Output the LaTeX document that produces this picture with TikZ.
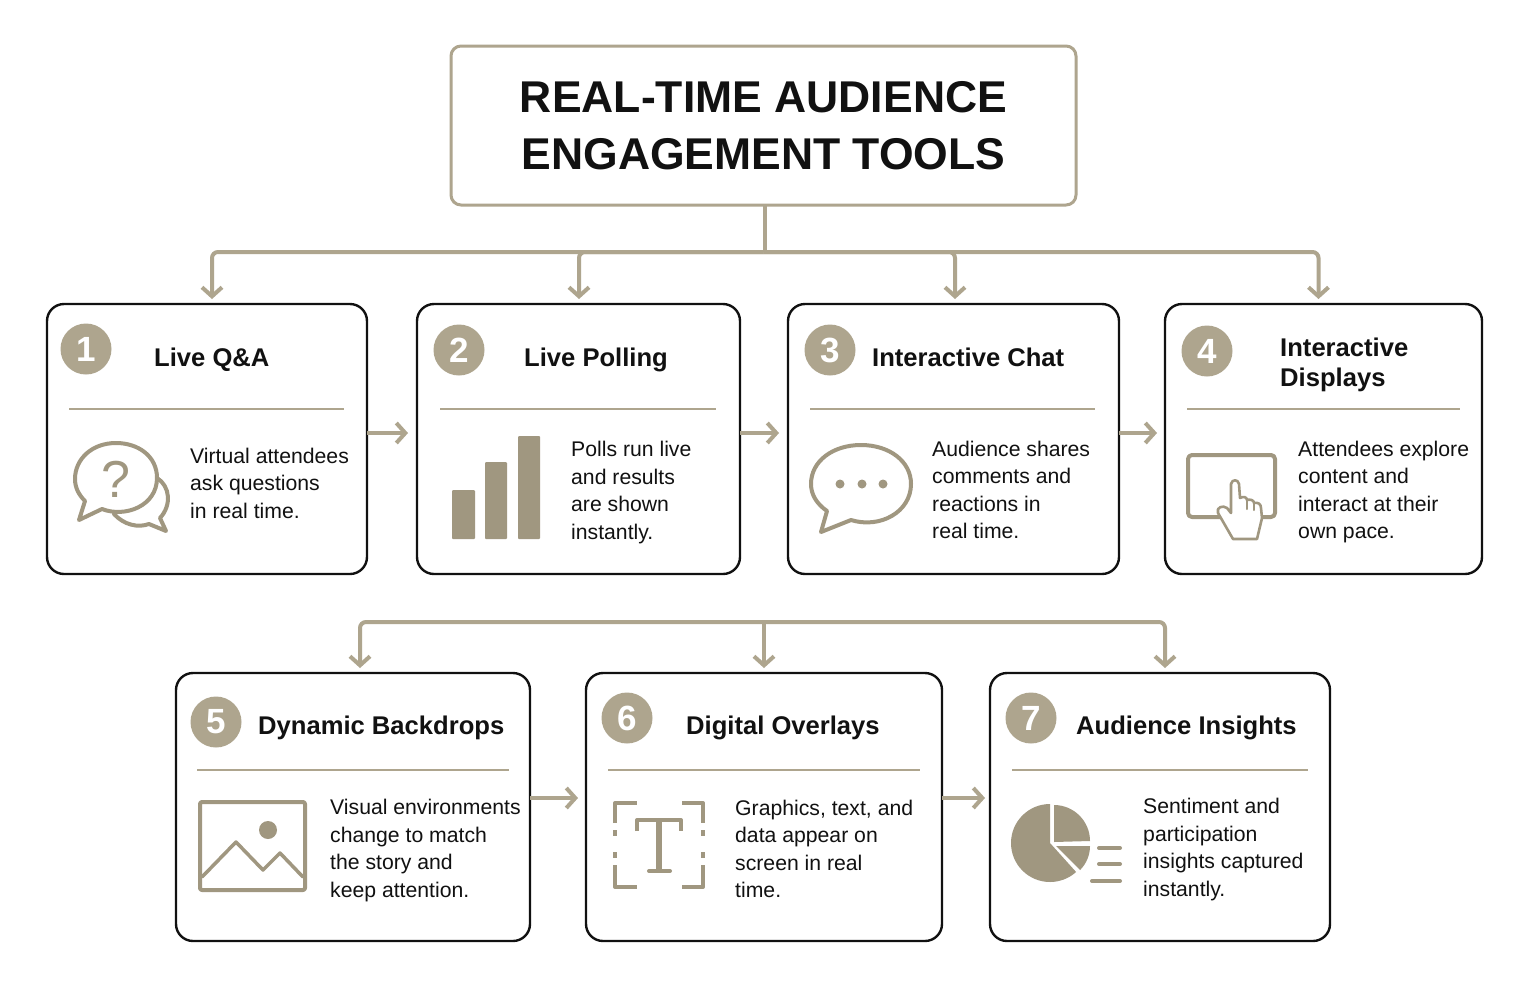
\documentclass[tikz,border=0pt]{standalone}
\usepackage{fontspec}
\setmainfont{Liberation Sans}
\usepackage{xcolor}
\usetikzlibrary{arrows.meta, positioning, calc}
\definecolor{tanline}{RGB}{174,165,142}
\definecolor{taniconc}{RGB}{160,151,128}
\definecolor{inkblack}{RGB}{17,17,17}

\begin{document}
\begin{tikzpicture}[
    x=1pt, y=-1pt,
    node distance=47pt,
    titlebox/.style={rectangle, rounded corners=10pt, draw=tanline, line width=3pt, fill=white,
        minimum width=625pt, minimum height=159pt, inner sep=0pt, outer sep=0pt, align=center,
        text=inkblack, font=\fontsize{44.5}{57}\selectfont\bfseries},
    card/.style={rectangle, rounded corners=17pt, draw=inkblack, line width=2.4pt, fill=white,
        minimum height=270pt, inner sep=0pt, outer sep=0pt},
    badge/.style={circle, fill=tanline, minimum size=51pt, inner sep=0pt, text=white,
        font=\fontsize{35}{35}\selectfont\bfseries},
    head/.style={anchor=west, inner sep=0pt, align=left, text=inkblack,
        font=\fontsize{25.6}{30}\selectfont\bfseries},
    body/.style={anchor=west, inner sep=0pt, align=left, text=inkblack,
        font=\fontsize{21.2}{27.5}\selectfont},
    rule/.style={tanline, line width=2pt},
    arr/.style={-{Straight Barb[length=9pt, width=20pt]}, tanline, line width=4pt, rounded corners=6pt},
    link/.style={tanline, line width=4pt},
    icon/.style={taniconc, line width=4pt, line join=round, line cap=round},
    solid icon/.style={fill=taniconc, draw=none}
]
\useasboundingbox (0,0) rectangle (1531,988);
\fill[white] (0,0) rectangle (1531,988);

\node[titlebox] (title) at (763.5,125.5) {REAL-TIME AUDIENCE\\ENGAGEMENT TOOLS};

% upper row
\node[card, minimum width=320pt] (c1) at (207,439) {};
\node[card, minimum width=323pt, right=50pt of c1] (c2) {};
\node[card, minimum width=331pt, right=48pt of c2] (c3) {};
\node[card, minimum width=317pt, right=46pt of c3] (c4) {};

% lower row
\node[card, minimum width=354pt, minimum height=268pt] (c5) at (353,807) {};
\node[card, minimum width=356pt, minimum height=268pt, right=56pt of c5] (c6) {};
\node[card, minimum width=340pt, minimum height=268pt, right=48pt of c6] (c7) {};

% connectors
\coordinate[below=47pt of title] (bus1);
\coordinate (bus2) at (764,622);
\draw[link] ([xshift=1.5pt]title.south) -- ([xshift=1.5pt]bus1);
\draw[arr, shorten >=5pt] (bus1) -| ([xshift=5pt]c1.north);
\draw[arr, shorten >=5pt] (bus1) -| ([xshift=0.5pt]c2.north);
\draw[arr, shorten >=5pt] (bus1) -| ([xshift=1.5pt]c3.north);
\draw[arr, shorten >=5pt] (bus1) -| ([xshift=-5pt]c4.north);
\draw[arr, shorten >=5pt] (bus2) -| ([xshift=7pt]c5.north);
\draw[arr, shorten >=5pt] (bus2) -- (c6.north);
\draw[arr, shorten >=5pt] (bus2) -| ([xshift=5pt]c7.north);
\draw[arr, shorten >=9pt] ([yshift=6pt]c1.east) -- ([yshift=6pt]c2.west);
\draw[arr, shorten >=9pt] ([yshift=6pt]c2.east) -- ([yshift=6pt]c3.west);
\draw[arr, shorten >=8pt] ([yshift=6pt]c3.east) -- ([yshift=6pt]c4.west);
\draw[arr, shorten >=8pt] ([yshift=9pt]c5.east) -- ([yshift=9pt]c6.west);
\draw[arr, shorten >=5pt] ([yshift=9pt]c6.east) -- ([yshift=9pt]c7.west);

% badges
\node[badge] (b1) at (86,349) {1};
\node[badge] (b2) at (459,350) {2};
\node[badge] (b3) at (830,350) {3};
\node[badge] (b4) at (1207,351) {4};
\node[badge] (b5) at (216,722) {5};
\node[badge] (b6) at (627,718) {6};
\node[badge] (b7) at (1031,718) {7};

% headings
\node[head] (h1) at (154,360) {Live Q\&A};
\node[head] (h2) at (524,360) {Live Polling};
\node[head] (h3) at (872,357) {Interactive Chat};
\node[head] (h4) at (1280,365) {Interactive\\Displays};
\node[head] (h5) at (258,728) {Dynamic Backdrops};
\node[head] (h6) at (686,728) {Digital Overlays};
\node[head] (h7) at (1076,728) {Audience Insights};

% dividers
\draw[rule] (69,409) -- (344,409);
\draw[rule] (440,409) -- (716,409);
\draw[rule] (810,409) -- (1095,409);
\draw[rule] (1187,409) -- (1460,409);
\draw[rule] (197,770) -- (509,770);
\draw[rule] (608,770) -- (920,770);
\draw[rule] (1012,770) -- (1308,770);

% body text
\node[body] (t1) at (190,483) {Virtual attendees\\ask questions\\in real time.};
\node[body] (t2) at (571,492.5) {Polls run live\\and results\\are shown\\instantly.};
\node[body] (t3) at (932,490) {Audience shares\\comments and\\reactions in\\real time.};
\node[body] (t4) at (1298,492) {Attendees explore\\content and\\interact at their\\own pace.};
\node[body] (t5) at (330,850.5) {Visual environments\\change to match\\the story and\\keep attention.};
\node[body] (t6) at (735,849) {Graphics, text, and\\data appear on\\screen in real\\time.};
\node[body] (t7) at (1143,849.5) {Sentiment and\\participation\\insights captured\\instantly.};

% icon 1, two bubbles
\draw[icon] (157,478) .. controls (170,486) and (172,505) .. (160,518) -- (166,531) -- (149,524)
    .. controls (138,528) and (124,525) .. (114,514);
\draw[icon] (102,509) .. controls (125,518) and (157,506) .. (157,478)
    .. controls (157,456) and (138,443) .. (116,443)
    .. controls (92,443) and (75,459) .. (75,479)
    .. controls (75,488) and (79,495) .. (85,501) -- (79,520) -- cycle;
\node[font=\fontsize{52}{52}\selectfont, text=taniconc, inner sep=0pt] (q1) at (116,479) {?};

% icon 2, bars
\fill[solid icon, rounded corners=1pt] (452,490) rectangle (475,539);
\fill[solid icon, rounded corners=1pt] (485,462) rectangle (507,539);
\fill[solid icon, rounded corners=1pt] (518,436) rectangle (540,539);

% icon 3, bubble with dots
\draw[icon] (851,520) .. controls (880,529) and (911,512) .. (911,484)
    .. controls (911,461) and (889,445) .. (861,445)
    .. controls (833,445) and (811,461) .. (811,484)
    .. controls (811,495) and (817,504) .. (827,511) -- (821,532) -- cycle;
\fill[solid icon] (840,484) circle[radius=4.5pt];
\fill[solid icon] (862,484) circle[radius=4.5pt];
\fill[solid icon] (883,484) circle[radius=4.5pt];

% icon 4, screen and hand
\draw[icon, rounded corners=4pt] (1188,455) rectangle (1275,517);
\draw[icon, line width=2.6pt, fill=white] (1233,539) -- (1218,513)
    .. controls (1216,507) and (1223,505) .. (1227,508) -- (1231,513) -- (1231,484)
    .. controls (1232,479) and (1238,479) .. (1239,484) -- (1240,498)
    .. controls (1243,496) and (1247,497) .. (1247,500)
    .. controls (1250,499) and (1254,500) .. (1254,503)
    .. controls (1258,502) and (1261,504) .. (1261,508) -- (1262,518) -- (1257,539) -- cycle;
\draw[icon, line width=2pt] (1247,500) -- (1247,509);
\draw[icon, line width=2pt] (1254,503) -- (1254,510);

% icon 5, picture
\draw[icon, rounded corners=2pt] (200,802) rectangle (305,890);
\fill[solid icon] (268,830) circle[radius=9pt];
\draw[icon, line width=3.5pt] (202,877) -- (236,842) -- (263,870) -- (280,853) -- (303,877);

% icon 6, text frame
\draw[icon, line cap=butt] (615,823) -- (615,803) -- (637,803);
\draw[icon, line cap=butt] (682,803) -- (703,803) -- (703,823);
\draw[icon, line cap=butt] (615,865) -- (615,887) -- (637,887);
\draw[icon, line cap=butt] (682,887) -- (703,887) -- (703,865);
\draw[icon, line cap=butt] (615,830) -- (615,836);
\draw[icon, line cap=butt] (615,852) -- (615,858);
\draw[icon, line cap=butt] (703,830) -- (703,836);
\draw[icon, line cap=butt] (703,852) -- (703,858);
\draw[icon, line cap=butt] (637,831) -- (637,820) -- (681,820) -- (681,831);
\draw[icon, line cap=butt, line width=6pt] (659,820) -- (659,871);
\draw[icon, line cap=round] (649,871) -- (670,871);

% icon 7, pie and list
\fill[solid icon] (1050,843) -- (1050,804) arc[start angle=90, end angle=312, radius=39pt] -- cycle;
\fill[solid icon] (1054,842) -- (1054,805) arc[start angle=90, end angle=0, radius=36pt] -- cycle;
\fill[solid icon] (1056,846) -- (1090,846) arc[start angle=0, end angle=-45, radius=34pt] -- cycle;
\draw[icon] (1099,848) -- (1120,848);
\draw[icon] (1099,864) -- (1120,864);
\draw[icon] (1092,881) -- (1120,881);
\end{tikzpicture}
\end{document}
